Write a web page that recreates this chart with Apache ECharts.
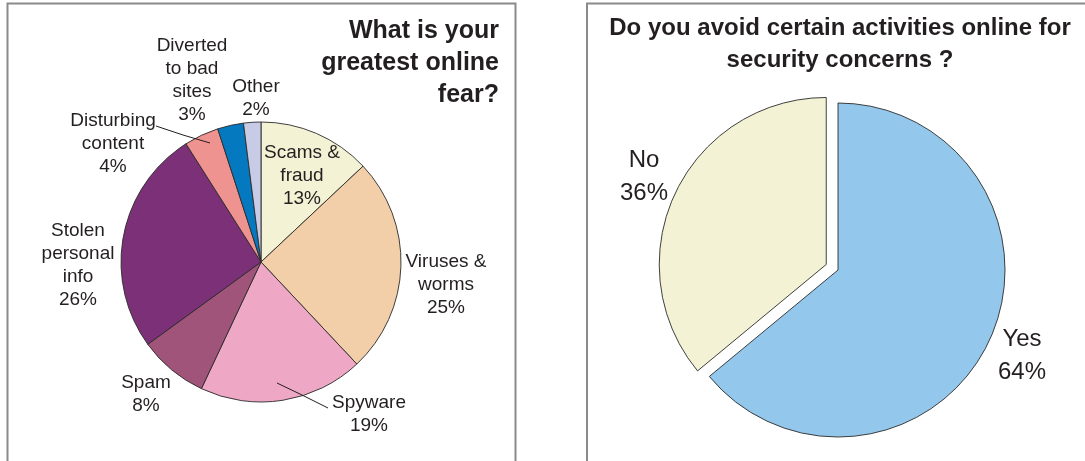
<!DOCTYPE html>
<html>
<head>
<meta charset="utf-8">
<script src="https://cdn.jsdelivr.net/npm/echarts@6/dist/echarts.min.js"></script>
<style>
html,body{margin:0;padding:0;background:#fff;}
#chart{width:1085px;height:461px;}
</style>
</head>
<body>
<div id="chart"></div>
<script>
// ---- Data ----
const fearCategories = ['Scams &\nfraud', 'Viruses &\nworms', 'Spyware', 'Spam', 'Stolen\npersonal\ninfo', 'Disturbing\ncontent', 'Diverted\nto bad\nsites', 'Other'];
const fearValues = [13, 25, 19, 8, 26, 4, 3, 2];
const avoidCategories = ['Yes', 'No'];
const avoidValues = [64, 36];
const fearTitle = 'What is your\ngreatest online\nfear?';
const avoidTitle = 'Do you avoid certain activities online for\nsecurity concerns ?';

// ---- Styles / layout ----
const fearColors = ['#F4F2D4', '#F2CFA8', '#EEA8C6', '#A05479', '#7C3078', '#EE938F', '#0579C0', '#C8CBE5'];
const avoidColors = ['#93C8EC', '#F3F2D4'];
const C1 = [261, 262], R1 = 140;
const C2 = [838, 270], R2 = 167;
const EXPLODE = 13;               // pull-out distance of the exploded slice
const explodedIndex = 1;          // 'No'
const fearLabelOffsets = [[41, -86], [185, 23], [108, 152], [-115, 132], [-183, 3], [-148, -118], [-69, -182], [-5, -164]];
const fearLeaders = { 2: [[16, 121], [41, 133], [67, 146]], 5: [[-105, -136], [-78, -127], [-51, -119]] };
const avoidLabelOffsets = [[184, 86], [-194, -93]];
const FONT = '"Liberation Sans", Arial, Helvetica, sans-serif';
const TXT = '#231F20';
const CLEAR = 'rgba(0,0,0,0)';

// exploded-slice direction from its mid angle (clockwise from 12 o'clock)
const avoidTotal = avoidValues.reduce((a, b) => a + b, 0);
const before = avoidValues.slice(0, explodedIndex).reduce((a, b) => a + b, 0);
const midAng = (before + avoidValues[explodedIndex] / 2) / avoidTotal * 2 * Math.PI;
const C2x = [C2[0] + EXPLODE * Math.sin(midAng), C2[1] - EXPLODE * Math.cos(midAng)];

const fearBase = fearCategories.map((name, i) => ({
  name: name, value: fearValues[i], itemStyle: { color: fearColors[i] }
}));
const fearOverlay = fearCategories.map((name, i) => ({
  name: name, value: fearValues[i], labelLine: { show: !!fearLeaders[i] }
}));
function avoidSeriesData(visibleIdx) {
  return avoidCategories.map((name, i) => ({
    name: name,
    value: avoidValues[i],
    itemStyle: (i === explodedIndex) === visibleIdx
      ? { color: avoidColors[i] }
      : { color: CLEAR, borderWidth: 0 },
    label: { show: (i === explodedIndex) === visibleIdx }
  }));
}

const avoidLabel = {
  show: true, position: 'outside', formatter: '{b}\n{c}%',
  fontFamily: FONT, fontSize: 24, lineHeight: 33, color: TXT
};
const avoidLayout = function (p) {
  const o = avoidLabelOffsets[p.dataIndex];
  return { x: C2[0] + o[0], y: C2[1] + o[1], align: 'center', verticalAlign: 'middle' };
};

const chart = echarts.init(document.getElementById('chart'), null, { renderer: 'canvas' });
chart.setOption({
  animation: false,
  backgroundColor: '#ffffff',
  graphic: [
    { type: 'rect', shape: { x: 7.5, y: 3.5, width: 508, height: 480 }, style: { fill: 'none', stroke: '#8a8a8a', lineWidth: 2 }, z: -1 },
    { type: 'rect', shape: { x: 587, y: 3.5, width: 520, height: 480 }, style: { fill: 'none', stroke: '#8a8a8a', lineWidth: 2 }, z: -1 },
    { type: 'text', x: 499, y: 15, style: { text: fearTitle, align: 'right', verticalAlign: 'top', font: 'bold 25px ' + FONT, lineHeight: 32, fill: TXT } },
    { type: 'text', x: 840, y: 12, style: { text: avoidTitle, align: 'center', verticalAlign: 'top', font: 'bold 24px ' + FONT, lineHeight: 32, fill: TXT } }
  ],
  series: [
    {
      type: 'pie', z: 2, center: C1, radius: R1, startAngle: 90, clockwise: true,
      avoidLabelOverlap: false, silent: true,
      itemStyle: { borderColor: '#2a2a2a', borderWidth: 0.9 },
      label: { show: false }, labelLine: { show: false },
      data: fearBase
    },
    {
      type: 'pie', z: 5, center: C1, radius: R1, startAngle: 90, clockwise: true,
      avoidLabelOverlap: false, silent: true,
      itemStyle: { color: CLEAR, borderWidth: 0 },
      label: {
        show: true, position: 'outside', formatter: '{b}\n{c}%',
        fontFamily: FONT, fontSize: 19, lineHeight: 23, color: TXT
      },
      labelLine: { show: false, showAbove: true, lineStyle: { color: '#231F20', width: 1 } },
      labelLayout: function (p) {
        const o = fearLabelOffsets[p.dataIndex];
        const res = { x: C1[0] + o[0], y: C1[1] + o[1], align: 'center', verticalAlign: 'middle' };
        const l = fearLeaders[p.dataIndex];
        if (l) res.labelLinePoints = l.map(pt => [C1[0] + pt[0], C1[1] + pt[1]]);
        return res;
      },
      data: fearOverlay
    },
    {
      type: 'pie', center: C2, radius: R2, startAngle: 90, clockwise: true,
      avoidLabelOverlap: false, silent: true,
      itemStyle: { borderColor: '#2a2a2a', borderWidth: 0.9 },
      label: avoidLabel, labelLine: { show: false }, labelLayout: avoidLayout,
      data: avoidSeriesData(false)
    },
    {
      type: 'pie', center: C2x, radius: R2, startAngle: 90, clockwise: true,
      avoidLabelOverlap: false, silent: true,
      itemStyle: { borderColor: '#2a2a2a', borderWidth: 0.9 },
      label: avoidLabel, labelLine: { show: false }, labelLayout: avoidLayout,
      data: avoidSeriesData(true)
    }
  ]
});
</script>
</body>
</html>
